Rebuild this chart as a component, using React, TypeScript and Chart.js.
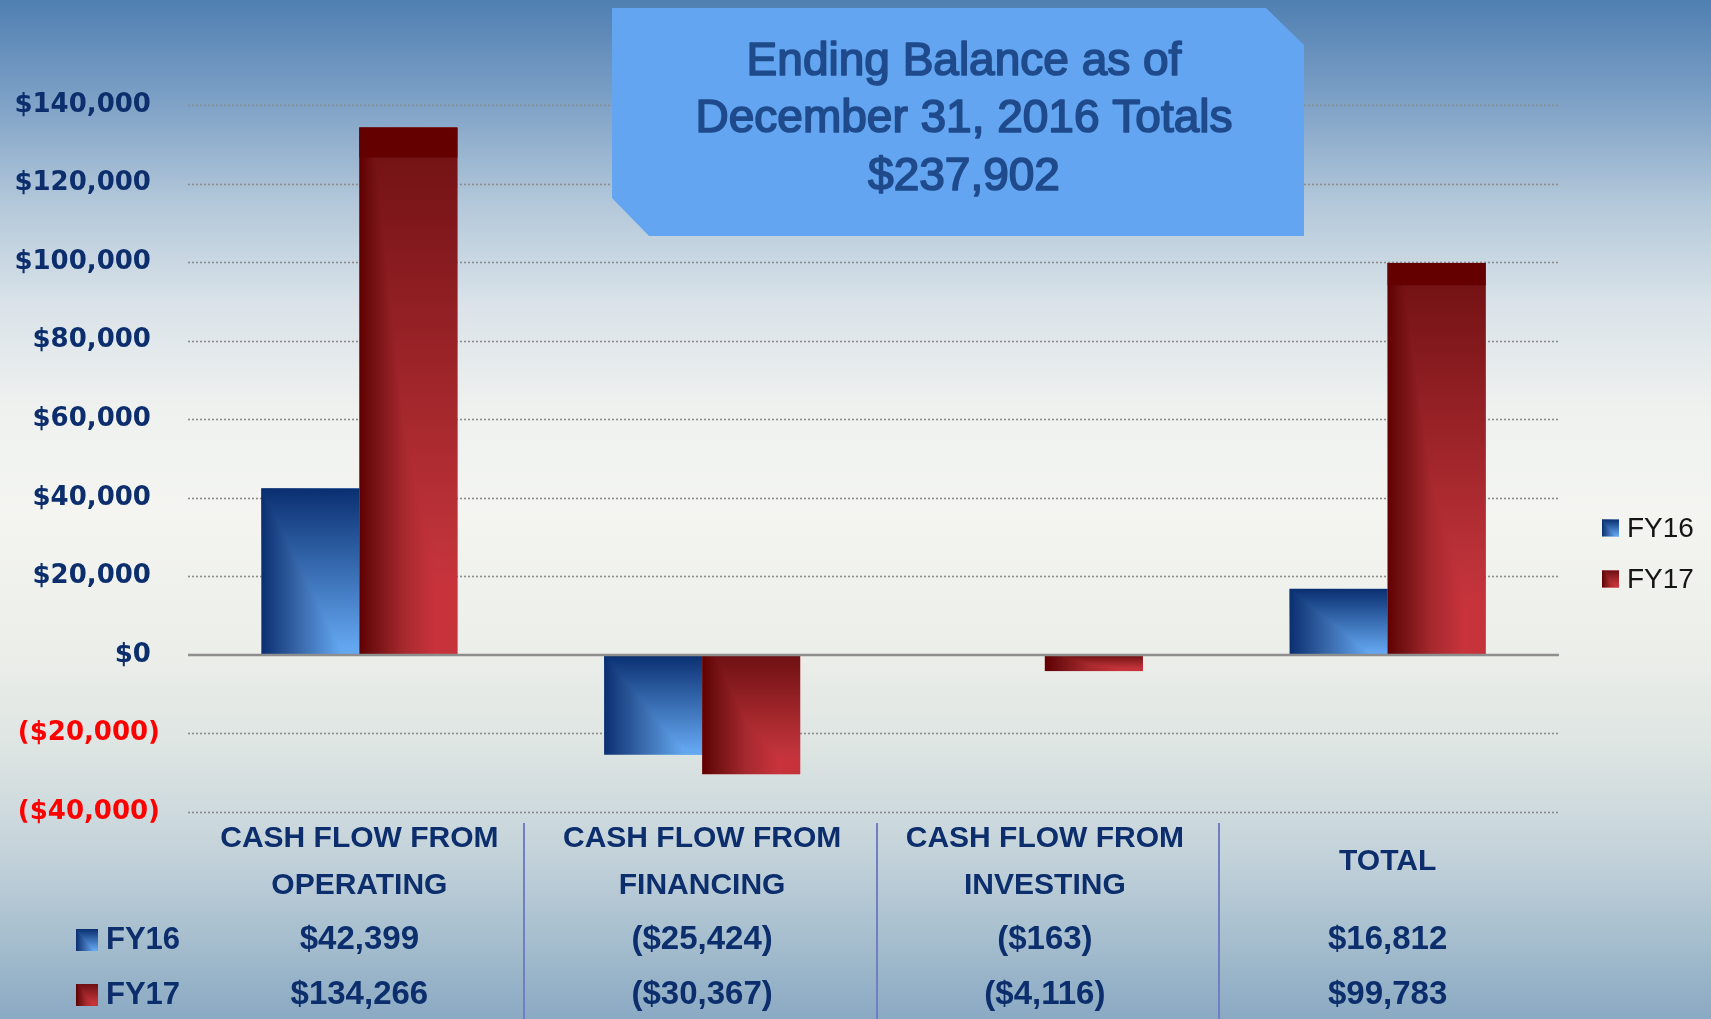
import React, { useEffect, useRef } from "react";
import { Chart, registerables } from "chart.js";

Chart.register(...registerables);

// ---- data ----
const categories: string[][] = [
  ["CASH FLOW FROM", "OPERATING"],
  ["CASH FLOW FROM", "FINANCING"],
  ["CASH FLOW FROM", "INVESTING"],
  ["TOTAL"],
];
const seriesNames = ["FY16", "FY17"];
const fy16 = [42399, -25424, -163, 16812];
const fy17 = [134266, -30367, -4116, 99783];
const yTicks = [-40000, -20000, 0, 20000, 40000, 60000, 80000, 100000, 120000, 140000];
const titleLines = ["Ending Balance as of", "December 31, 2016 Totals", "$237,902"];

const W = 1711;
const H = 1019;
const NAVY = "#0c2e6c";
const SEP_SHIFT = [-7, 3.5, 3];

const money = (v: number) => "$" + Math.abs(v).toLocaleString("en-US");
const paren = (v: number) => (v < 0 ? "(" + money(v) + ")" : money(v));

function paintBar(
  ctx: CanvasRenderingContext2D,
  l: number,
  t: number,
  w: number,
  h: number,
  hStops: [number, string][],
  vStops: [number, string][]
) {
  ctx.save();
  const hg = ctx.createLinearGradient(l, 0, l + w, 0);
  hStops.forEach(([o, c]) => hg.addColorStop(o, c));
  ctx.fillStyle = hg;
  ctx.fillRect(l, t, w, h);
  const vg = ctx.createLinearGradient(0, t, 0, t + h);
  vStops.forEach(([o, c]) => vg.addColorStop(o, c));
  ctx.globalCompositeOperation = "darken";
  ctx.fillStyle = vg;
  ctx.fillRect(l, t, w, h);
  ctx.restore();
}

const BLUE_H: [number, string][] = [
  [0, "#0a2f70"],
  [0.4, "#3a6aad"],
  [0.8, "#62a6ee"],
  [1, "#65a9f3"],
];
const BLUE_V: [number, string][] = [
  [0, "#0a2f70"],
  [1, "#68acf6"],
];
const RED_H: [number, string][] = [
  [0, "#620000"],
  [0.12, "#6e0e10"],
  [0.45, "#a6292e"],
  [0.78, "#c9333b"],
  [1, "#c5323a"],
];
const RED_V: [number, string][] = [
  [0, "#6e1012"],
  [1, "#d43c44"],
];

function swatch(ctx: CanvasRenderingContext2D, x: number, y: number, s: number, idx: number) {
  paintBar(ctx, x, y, s, s, idx === 0 ? BLUE_H : RED_H, idx === 0 ? BLUE_V : RED_V);
}

const decorPlugin = {
  id: "decor",
  beforeDraw(chart: any) {
    const ctx = chart.ctx as CanvasRenderingContext2D;
    ctx.save();
    const g = ctx.createLinearGradient(0, 0, 0, H);
    g.addColorStop(0, "#4f7fb2");
    g.addColorStop(0.1, "#7ea1c6");
    g.addColorStop(0.2, "#b3c8da");
    g.addColorStop(0.3, "#dae3e9");
    g.addColorStop(0.4, "#eff1ef");
    g.addColorStop(0.5, "#f4f5f1");
    g.addColorStop(0.64, "#eceee9");
    g.addColorStop(0.74, "#dce4e2");
    g.addColorStop(0.84, "#c3d2da");
    g.addColorStop(0.93, "#a3bccd");
    g.addColorStop(1, "#8aa9c3");
    ctx.fillStyle = g;
    ctx.fillRect(0, 0, W, H);
    ctx.restore();
  },
  beforeDatasetsDraw(chart: any) {
    const ctx = chart.ctx as CanvasRenderingContext2D;
    const y = chart.scales.y;
    const { left, right } = chart.chartArea;
    ctx.save();
    ctx.strokeStyle = "#8c8c8c";
    ctx.lineWidth = 1.6;
    ctx.setLineDash([2, 2]);
    for (const v of yTicks) {
      if (v === 0) continue;
      const py = Math.round(y.getPixelForValue(v)) + 0.5;
      ctx.beginPath();
      ctx.moveTo(left, py);
      ctx.lineTo(right, py);
      ctx.stroke();
    }
    ctx.restore();
  },
  afterDatasetsDraw(chart: any) {
    const ctx = chart.ctx as CanvasRenderingContext2D;
    ctx.save();
    chart.data.datasets.forEach((ds: any, di: number) => {
      const meta = chart.getDatasetMeta(di);
      meta.data.forEach((el: any, i: number) => {
        const p = el.getProps(["x", "y", "base", "width"], true);
        const l = p.x - p.width / 2;
        const t = Math.min(p.y, p.base);
        const h = Math.abs(p.base - p.y);
        if (h < 0.5) return;
        if (di === 0) {
          paintBar(ctx, l, t, p.width, h, BLUE_H, BLUE_V);
        } else {
          paintBar(ctx, l, t, p.width, h, RED_H, RED_V);
          if (ds.data[i] > 0) {
            ctx.fillStyle = "#640000";
            ctx.fillRect(l, t, p.width, h * 0.057);
          }
        }
      });
    });
    // zero line
    const y0 = chart.scales.y.getPixelForValue(0);
    const { left, right } = chart.chartArea;
    ctx.strokeStyle = "#8e8e8e";
    ctx.lineWidth = 2.5;
    ctx.beginPath();
    ctx.moveTo(left, y0);
    ctx.lineTo(right, y0);
    ctx.stroke();
    ctx.restore();
  },
  afterDraw(chart: any) {
    const ctx = chart.ctx as CanvasRenderingContext2D;
    const xs = chart.scales.x;
    ctx.save();

    // title box
    ctx.fillStyle = "#63a5f0";
    ctx.beginPath();
    ctx.moveTo(612, 8);
    ctx.lineTo(1266, 8);
    ctx.lineTo(1304, 45);
    ctx.lineTo(1304, 236);
    ctx.lineTo(649, 236);
    ctx.lineTo(612, 198);
    ctx.closePath();
    ctx.fill();
    ctx.fillStyle = "#1f4a8b";
    ctx.strokeStyle = "#1f4a8b";
    ctx.lineWidth = 1.7;
    ctx.lineJoin = "round";
    ctx.font = "46px 'Liberation Sans', Arial, sans-serif";
    ctx.textAlign = "center";
    ctx.textBaseline = "middle";
    titleLines.forEach((s, i) => {
      ctx.fillText(s, 964, 62 + i * 57.5);
      ctx.strokeText(s, 964, 62 + i * 57.5);
    });

    // right legend
    ctx.font = "28px 'Liberation Sans', Arial, sans-serif";
    ctx.textAlign = "left";
    seriesNames.forEach((n, i) => {
      const cy = 528 + i * 51;
      swatch(ctx, 1602, cy - 8.5, 17, i);
      ctx.fillStyle = "#151515";
      ctx.fillText(n, 1627, cy + 1);
    });

    // data table
    const n = categories.length;
    const centers = categories.map((_, i) => xs.getPixelForValue(i));
    ctx.strokeStyle = "#6f7fc2";
    ctx.lineWidth = 2;
    for (let i = 0; i < n - 1; i++) {
      const bx = Math.round((centers[i] + centers[i + 1]) / 2 + SEP_SHIFT[i]);
      ctx.beginPath();
      ctx.moveTo(bx, 823);
      ctx.lineTo(bx, H);
      ctx.stroke();
    }
    ctx.fillStyle = NAVY;
    ctx.textAlign = "center";
    ctx.font = "bold 30px 'Liberation Sans', Arial, sans-serif";
    categories.forEach((lines, i) => {
      const lh = 47;
      const y0 = 862 - ((lines.length - 1) * lh) / 2;
      lines.forEach((s, k) => ctx.fillText(s, centers[i], y0 + k * lh));
    });
    const rows = [fy16, fy17];
    const rowY = [940, 995];
    rows.forEach((vals, r) => {
      swatch(ctx, 76, rowY[r] - 11, 22, r);
      ctx.fillStyle = NAVY;
      ctx.textAlign = "left";
      ctx.font = "bold 31px 'Liberation Sans', Arial, sans-serif";
      ctx.fillText(seriesNames[r], 106, rowY[r]);
      ctx.textAlign = "center";
      ctx.font = "bold 33px 'Liberation Sans', Arial, sans-serif";
      vals.forEach((v, i) => ctx.fillText(paren(v), centers[i], rowY[r]));
    });
    ctx.restore();
  },
};

export default function App() {
  const ref = useRef<HTMLCanvasElement | null>(null);
  useEffect(() => {
    if (!ref.current) return;
    const chart = new Chart(ref.current, {
      type: "bar",
      data: {
        labels: categories,
        datasets: [
          { label: seriesNames[0], data: fy16, backgroundColor: "rgba(0,0,0,0)", borderWidth: 0 },
          { label: seriesNames[1], data: fy17, backgroundColor: "rgba(0,0,0,0)", borderWidth: 0 },
        ],
      },
      options: {
        responsive: false,
        animation: false,
        devicePixelRatio: 1,
        datasets: { bar: { barPercentage: 1, categoryPercentage: 0.572 } },
        layout: { padding: { left: 0, right: 152, top: 105, bottom: 207 } },
        plugins: { legend: { display: false }, tooltip: { enabled: false }, title: { display: false } },
        scales: {
          x: { display: false },
          y: {
            min: -40000,
            max: 140000,
            afterBuildTicks: (s: any) => {
              s.ticks = yTicks.map((v) => ({ value: v }));
            },
            afterFit: (s: any) => {
              s.width = 188;
            },
            grid: { display: false, drawTicks: false },
            border: { display: false },
            ticks: {
              padding: 28,
              font: { family: "'DejaVu Sans', sans-serif", weight: "bold", size: 26 },
              color: (c: any) => (c.tick && c.tick.value < 0 ? "#ff0000" : NAVY),
              callback: (v: any) => (Number(v) < 0 ? paren(Number(v)) : money(Number(v)) + " "),
            },
          },
        },
      },
      plugins: [decorPlugin],
    } as any);
    return () => chart.destroy();
  }, []);
  return (
    <div style={{ position: "absolute", left: 0, top: 0, width: W, height: H }}>
      <canvas ref={ref} width={W} height={H} style={{ display: "block" }} />
    </div>
  );
}
